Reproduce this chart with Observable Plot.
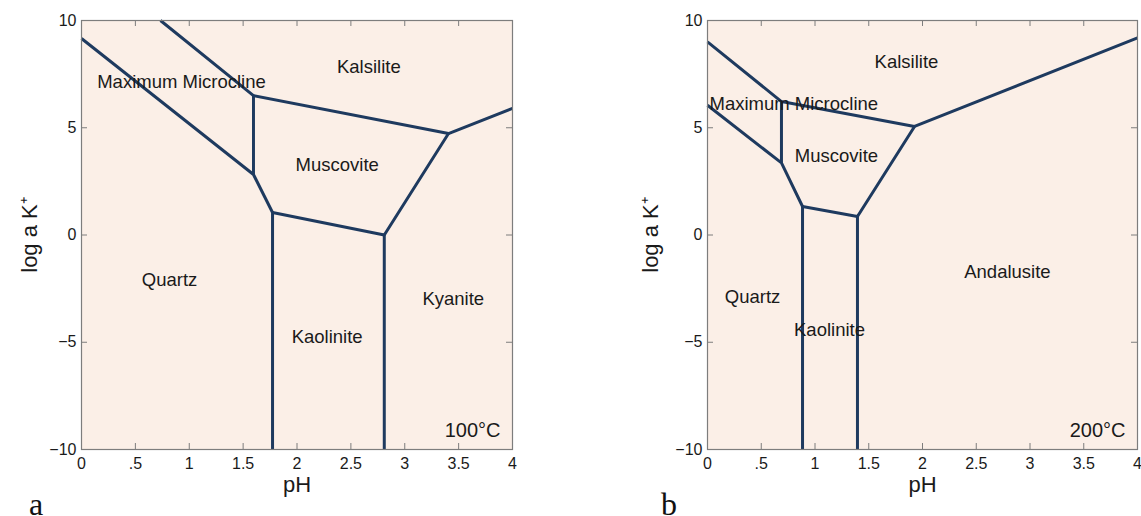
<!DOCTYPE html>
<html>
<head>
<meta charset="utf-8">
<script src="https://cdn.jsdelivr.net/npm/d3@7"></script>
<script src="https://cdn.jsdelivr.net/npm/@observablehq/plot@0.6"></script>
<style>
  html, body { margin: 0; padding: 0; background: #ffffff; }
  #wrap { position: relative; width: 1141px; height: 516px; overflow: hidden; font-family: "Liberation Sans", Arial, sans-serif; }
  .panel { position: absolute; top: 0; }
  .tag { position: absolute; font-family: "Liberation Serif", "Times New Roman", serif; font-size: 32px; line-height: 1; color: #111; }
</style>
</head>
<body>
<div id="wrap"></div>
<script>
// ---- axis ticks ----
const xTicks = [0, 0.5, 1, 1.5, 2, 2.5, 3, 3.5, 4];
const xTickLabels = ["0", ".5", "1", "1.5", "2", "2.5", "3", "3.5", "4"];
const yTicks = [-10, -5, 0, 5, 10];
const yTickLabels = ["\u221210", "\u22125", "0", "5", "10"];
const xLabel = "pH";
const yLabel = "log a K\u207A";

// ---- panel a (100°C): phase boundaries as polylines [pH, log aK+] ----
const boundariesA = [
  [[0, 9.16], [1.596, 2.82], [1.773, 1.05], [1.773, -10]],
  [[0.733, 10], [1.596, 6.50], [3.406, 4.73], [4, 5.90]],
  [[1.596, 6.50], [1.596, 2.82]],
  [[1.773, 1.05], [2.81, 0.0], [3.406, 4.73]],
  [[2.81, 0.0], [2.81, -10]]
];
const fieldNamesA = ["Maximum Microcline", "Kalsilite", "Muscovite", "Quartz", "Kaolinite", "Kyanite"];
const fieldPhA = [0.928, 2.667, 2.373, 0.817, 2.28, 3.45];
const fieldLogKA = [7.13, 7.83, 3.24, -2.12, -4.78, -3.0];
const tempA = "100\u00B0C";

// ---- panel b (200°C) ----
const boundariesB = [
  [[0, 9.0], [0.688, 6.22], [1.926, 5.06], [4, 9.19]],
  [[0, 6.05], [0.688, 3.36], [0.884, 1.33], [0.884, -10]],
  [[0.688, 6.22], [0.688, 3.36]],
  [[0.884, 1.33], [1.395, 0.86], [1.926, 5.06]],
  [[1.395, 0.86], [1.395, -10]]
];
const fieldNamesB = ["Kalsilite", "Maximum Microcline", "Muscovite", "Quartz", "Kaolinite", "Andalusite"];
const fieldPhB = [1.851, 0.803, 1.2, 0.419, 1.135, 2.79];
const fieldLogKB = [8.07, 6.12, 3.67, -2.91, -4.45, -1.75];
const tempB = "200\u00B0C";

const panelTags = ["a", "b"];

// ---- styling ----
const bg = "#fbefe7";
const lineColor = "#1e3a5f";
const frameColor = "#7d7d7d";
const textColor = "#1a1a1a";

function flatten(polys) {
  const rows = [];
  polys.forEach((p, i) => p.forEach(([x, y]) => rows.push({line: i, pH: x, logK: y})));
  return rows;
}

function panel({boundaries, names, phs, logks, temp, marginLeft, marginRight, width, ylabelDx}) {
  const plotW = width - marginLeft - marginRight;
  const plotH = 516 - 20 - 67;
  const tickPx = 6;
  const tx = tickPx * 4 / plotW;   // tick length in pH units
  const ty = tickPx * 20 / plotH;  // tick length in logK units
  const fields = names.map((n, i) => ({name: n, pH: phs[i], logK: logks[i]}));
  return Plot.plot({
    width, height: 516,
    marginLeft, marginRight, marginTop: 20, marginBottom: 67,
    style: {fontFamily: "'Liberation Sans', Arial, sans-serif", fontSize: "16px", color: textColor, background: "transparent", overflow: "visible"},
    x: {domain: [0, 4], ticks: xTicks, tickFormat: d => xTickLabels[xTicks.indexOf(d)], tickSize: 0, tickPadding: 8, label: null},
    y: {domain: [-10, 10], ticks: yTicks, tickFormat: d => yTickLabels[yTicks.indexOf(d)], tickSize: 0, tickPadding: 5, label: null},
    marks: [
      Plot.frame({fill: bg, stroke: null}),
      Plot.line(flatten(boundaries), {x: "pH", y: "logK", z: "line", stroke: lineColor, strokeWidth: 3, strokeLinejoin: "miter", strokeLinecap: "butt"}),
      Plot.ruleX(xTicks, {x: d => d, y1: -10, y2: -10 + ty, stroke: frameColor, strokeWidth: 1}),
      Plot.ruleX(xTicks, {x: d => d, y1: 10, y2: 10 - ty, stroke: frameColor, strokeWidth: 1}),
      Plot.ruleY(yTicks, {y: d => d, x1: 0, x2: tx, stroke: frameColor, strokeWidth: 1}),
      Plot.ruleY(yTicks, {y: d => d, x1: 4, x2: 4 - tx, stroke: frameColor, strokeWidth: 1}),
      Plot.frame({stroke: frameColor, strokeWidth: 1.2}),
      Plot.text(fields, {x: "pH", y: "logK", text: "name", fontSize: 18.5, fill: textColor}),
      Plot.text([temp], {frameAnchor: "bottom-right", text: d => d, dx: -12, dy: -13, textAnchor: "end", lineAnchor: "bottom", fontSize: 20, fill: textColor}),
      Plot.text([xLabel], {frameAnchor: "bottom", text: d => d, dy: 42, textAnchor: "middle", fontSize: 22, fill: textColor}),
      Plot.text([yLabel], {frameAnchor: "left", text: d => d, dx: ylabelDx, rotate: -90, textAnchor: "middle", fontSize: 22, fill: textColor})
    ]
  });
}

const wrap = document.getElementById("wrap");

const a = panel({boundaries: boundariesA, names: fieldNamesA, phs: fieldPhA, logks: fieldLogKA, temp: tempA,
  marginLeft: 81, marginRight: 58, width: 570, ylabelDx: -52});
a.classList.add("panel"); a.style.left = "0px";
wrap.appendChild(a);

const b = panel({boundaries: boundariesB, names: fieldNamesB, phs: fieldPhB, logks: fieldLogKB, temp: tempB,
  marginLeft: 137, marginRight: 4, width: 571, ylabelDx: -57});
b.classList.add("panel"); b.style.left = "570px";
wrap.appendChild(b);

[["a", 29], ["b", 661]].forEach(([t, left], i) => {
  const d = document.createElement("div");
  d.className = "tag";
  d.textContent = panelTags[i];
  d.style.left = left + "px";
  d.style.top = "488px";
  wrap.appendChild(d);
});
</script>
</body>
</html>
